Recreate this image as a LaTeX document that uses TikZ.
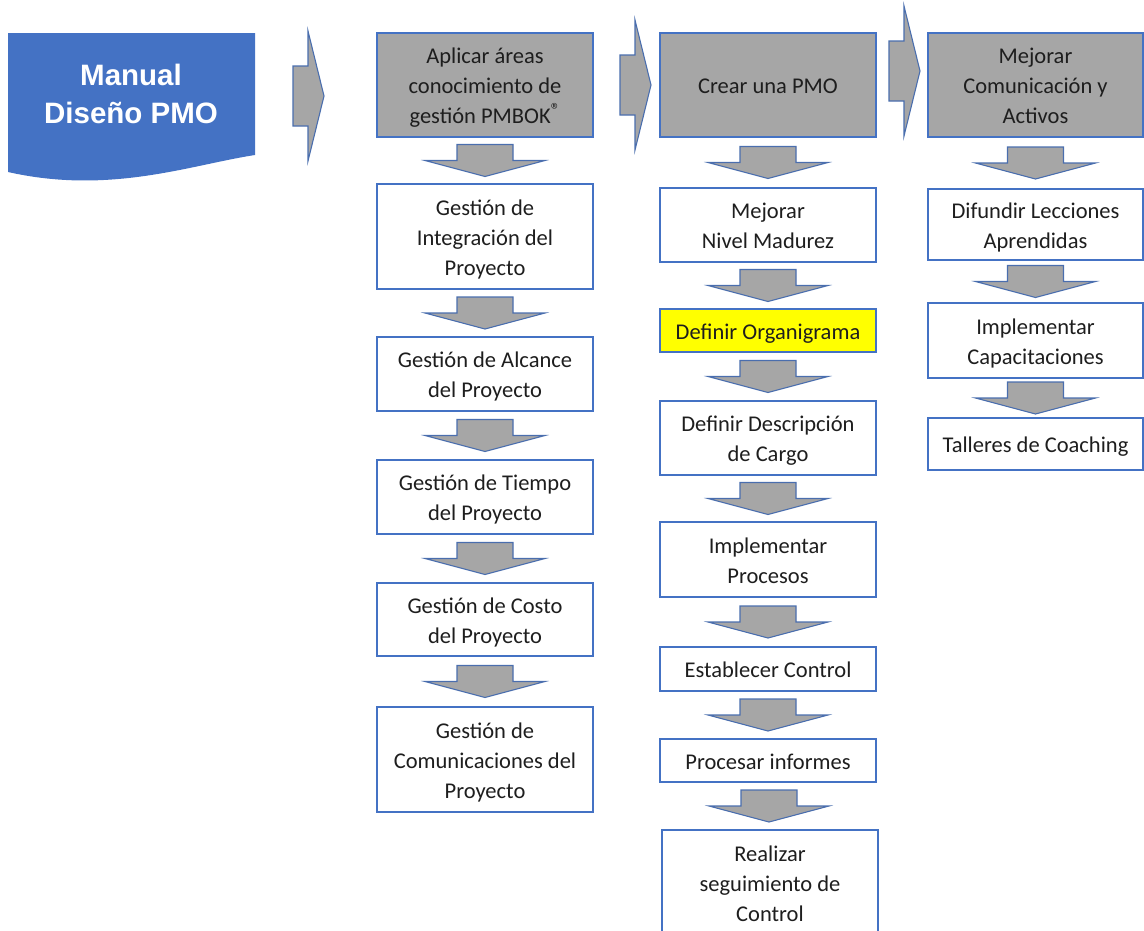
\documentclass[tikz,border=0pt]{standalone}
\usepackage{fontspec}
\setmainfont{Carlito}
\newfontfamily\docfont{Liberation Sans}
\usetikzlibrary{calc}
\definecolor{boxblue}{HTML}{4472C4}
\definecolor{arrowblue}{HTML}{4A6EAE}
\definecolor{boxgray}{HTML}{A6A6A6}
\definecolor{hilite}{HTML}{FFFF00}
\definecolor{txt}{HTML}{1E1E1E}
% line box as a text frame sets it: ascent above the first baseline, descent below the last
\newcommand{\linestrut}{\rule[-5pt]{0pt}{27pt}}
\newcommand{\boxtext}[1]{\linestrut#1\linestrut}
\newcommand{\regmark}{\raisebox{0.3em}{\fontsize{19}{19}\selectfont\textregistered}}
\tikzset{
  card/.style={draw=boxblue, line width=1.3pt, fill=white, minimum width=216pt,
    inner sep=0pt, align=center, text=txt, font=\fontsize{22.5}{30}\selectfont},
  head/.style={card, fill=boxgray, minimum height=104pt},
  blockarrow/.style={draw=arrowblue, fill=boxgray, line width=1.1pt, line join=miter},
  pics/downarrow/.style={code={
    \draw[blockarrow] (-28,-16) -- (28,-16) -- (28,0) -- (60,0) -- (0,16)
      -- (-60,0) -- (-28,0) -- cycle;}},
  pics/rightarrow/.style={code={
    \draw[blockarrow] (0,-30) -- (15,-30) -- (15,-65) -- (31,0) -- (15,65)
      -- (15,30) -- (0,30) -- cycle;}},
}
\begin{document}
\begin{tikzpicture}[x=1pt,y=-1pt]
\useasboundingbox (0,0) rectangle (1144,930);
\clip (0,0) rectangle (1144,930);

% title document shape
\fill[boxblue] (8,33) -- (255,33) -- (255,155)
  .. controls (190,165) and (110,195) .. (8,172) -- cycle;
\node[text=white, align=center, font=\docfont\bfseries\fontsize{29.5}{38}\selectfont]
  (doc) at (131,94) {Manual\\Diseño PMO};

% column headings
\node[head] (h1) at (485,85) {\boxtext{Aplicar áreas\\conocimiento de\\gestión PMBOK\regmark}};
\node[head] (h2) at (768,85) {\boxtext{Crear una PMO}};
\node[head, minimum width=215pt] (h3) at (1035.5,85) {\boxtext{Mejorar\\Comunicación y\\Activos}};

% arrows between headings
\pic at (293,96) {rightarrow};
\pic at (620,85) {rightarrow};
\pic at (889,71) {rightarrow};

% column 1
\node[card, minimum height=105pt] (c1a) at (485,236.5) {\boxtext{Gestión de\\Integración del\\Proyecto}};
\node[card, minimum height=74pt]  (c1b) at (485,374) {\boxtext{Gestión de Alcance\\del Proyecto}};
\node[card, minimum height=74pt]  (c1c) at (485,497) {\boxtext{Gestión de Tiempo\\del Proyecto}};
\node[card, minimum height=73pt]  (c1d) at (485,619.5) {\boxtext{Gestión de Costo\\del Proyecto}};
\node[card, minimum height=105pt] (c1e) at (485,759.5) {\boxtext{Gestión de\\Comunicaciones del\\Proyecto}};

% column 2
\node[card, minimum height=74pt]  (c2a) at (768,225) {\boxtext{Mejorar\\Nivel Madurez}};
\node[card, fill=hilite, minimum height=43pt] (c2b) at (768,330.5) {\boxtext{Definir Organigrama}};
\node[card, minimum height=74pt]  (c2c) at (768,438) {\boxtext{Definir Descripción\\de Cargo}};
\node[card, minimum height=75pt]  (c2d) at (768,559.5) {\boxtext{Implementar\\Procesos}};
\node[card, minimum height=44pt]  (c2e) at (768,669) {\boxtext{Establecer Control}};
\node[card, minimum height=43pt]  (c2f) at (768,760.5) {\boxtext{Procesar informes}};
\node[card, minimum height=105pt] (c2g) at (770,882.5) {\boxtext{Realizar\\seguimiento de\\Control}};

% column 3
\node[card, minimum width=215pt, minimum height=71pt] (c3a) at (1035.5,224.5) {\boxtext{Difundir Lecciones\\Aprendidas}};
\node[card, minimum width=215pt, minimum height=75pt] (c3b) at (1035.5,340.5) {\boxtext{Implementar\\Capacitaciones}};
\node[card, minimum width=215pt, minimum height=52pt] (c3c) at (1035.5,444) {\boxtext{Talleres de Coaching}};

% downward block arrows
\foreach \a/\b in {h1/c1a, c1a/c1b, c1b/c1c, c1c/c1d, c1d/c1e,
                   h2/c2a, c2a/c2b, c2b/c2c, c2c/c2d, c2d/c2e, c2e/c2f, c2f/c2g,
                   h3/c3a, c3a/c3b, c3b/c3c}
  \pic at ($(\a.south)!0.5!(\b.north)$) {downarrow};
\end{tikzpicture}
\end{document}
